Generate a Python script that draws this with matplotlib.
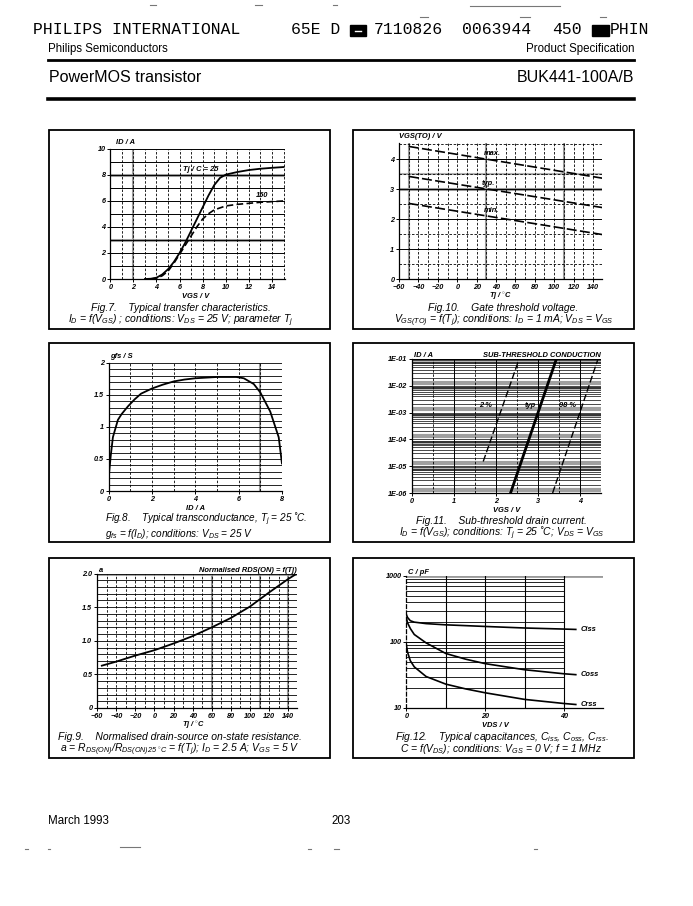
import numpy as np
import matplotlib
matplotlib.use('Agg')
import matplotlib.pyplot as plt
from matplotlib.patches import Rectangle
from matplotlib.lines import Line2D

plt.rcParams['font.family'] = ['Liberation Sans', 'DejaVu Sans']
plt.rcParams['mathtext.fontset'] = 'custom'
plt.rcParams['mathtext.rm'] = 'Liberation Sans:italic'
plt.rcParams['mathtext.it'] = 'Liberation Sans:italic'
plt.rcParams['mathtext.bf'] = 'Liberation Sans:bold:italic'

# ---------------- data ----------------
# Fig.7 transfer characteristics
fig7_vgs_25 = [3, 3.5, 4, 4.5, 5, 5.5, 6, 6.5, 7, 7.5, 8, 8.5, 9, 9.5, 10, 11, 12, 13, 14, 15]
fig7_id_25 = [0, 0.02, 0.1, 0.35, 0.75, 1.3, 2.0, 2.8, 3.7, 4.6, 5.5, 6.4, 7.2, 7.75, 8.0, 8.2, 8.35, 8.45, 8.52, 8.58]
fig7_vgs_150 = [3.5, 4, 4.5, 5, 5.5, 6, 6.5, 7, 7.5, 8, 8.5, 9, 9.5, 10, 11, 12, 13, 14, 15]
fig7_id_150 = [0, 0.05, 0.25, 0.6, 1.2, 1.9, 2.6, 3.3, 4.0, 4.6, 5.0, 5.3, 5.45, 5.6, 5.72, 5.8, 5.88, 5.93, 5.98]
fig7_xticks = [0, 2, 4, 6, 8, 10, 12, 14]
fig7_yticks = [0, 2, 4, 6, 8, 10]

# Fig.10 gate threshold voltage
fig10_tj = [-50, 150]
fig10_max = [4.42, 3.36]
fig10_typ = [3.42, 2.38]
fig10_min = [2.52, 1.48]
fig10_xticks = [-60, -40, -20, 0, 20, 40, 60, 80, 100, 120, 140]
fig10_yticks = [0, 1, 2, 3, 4]

# Fig.8 transconductance
fig8_id = [0, 0.03, 0.1, 0.2, 0.43, 0.6, 0.89, 1.2, 1.5, 2.0, 2.5, 3.0, 3.5, 4.0, 5.0, 5.9, 6.24, 6.7, 7.0, 7.46, 7.85, 8.0]
fig8_gfs = [0.08, 0.3, 0.55, 0.84, 1.11, 1.2, 1.32, 1.43, 1.52, 1.6, 1.66, 1.71, 1.74, 1.76, 1.78, 1.78, 1.76, 1.67, 1.54, 1.24, 0.84, 0.43]
fig8_xticks = [0, 2, 4, 6, 8]
fig8_yticks = [0, 0.5, 1, 1.5, 2]
fig8_ytick_labels = ['0', '0.5', '1', '1.5', '2']

# Fig.11 sub-threshold drain current
fig11_vgs_typ = [2.35, 3.44]
fig11_id_typ = [1e-6, 1e-1]
fig11_vgs_2 = [1.70, 2.52]
fig11_id_2 = [1.5e-5, 7e-2]
fig11_vgs_98 = [3.35, 4.42]
fig11_id_98 = [1e-6, 9e-2]
fig11_xticks = [0, 1, 2, 3, 4]
fig11_yticks = [1e-6, 1e-5, 1e-4, 1e-3, 1e-2, 1e-1]
fig11_ytick_labels = ['1E-06', '1E-05', '1E-04', '1E-03', '1E-02', '1E-01']

# Fig.9 normalised RDS(ON)
fig9_tj = [-55, -40, -20, 0, 20, 40, 60, 80, 100, 120, 140, 149]
fig9_a = [0.63, 0.69, 0.78, 0.86, 0.96, 1.07, 1.20, 1.34, 1.51, 1.72, 1.92, 2.0]
fig9_xticks = [-60, -40, -20, 0, 20, 40, 60, 80, 100, 120, 140]
fig9_yticks = [0, 0.5, 1.0, 1.5, 2.0]
fig9_ytick_labels = ['0', '0.5', '1.0', '1.5', '2.0']

# Fig.12 capacitances
fig12_vds = [0, 0.3, 1, 2, 5, 10, 15, 20, 30, 40, 43]
fig12_ciss = [260, 235, 210, 200, 190, 182, 177, 172, 163, 157, 155]
fig12_coss = [230, 195, 160, 130, 97, 67, 55, 47, 38, 33, 32]
fig12_crss = [90, 70, 52, 42, 30, 23, 19.5, 17, 13.5, 11.7, 11.3]
fig12_xticks = [0, 20, 40]
fig12_yticks = [10, 100, 1000]
fig12_ytick_labels = ['10', '100', '1000']

# ---------------- layout helpers ----------------
W, H = 693, 906
fig = plt.figure(figsize=(W / 100, H / 100), dpi=100)
fig.patch.set_facecolor('white')


def ftext(x, y, s, **kw):
    return fig.text(x / W, 1 - y / H, s, **kw)


def fline(x0, y0, x1, y1, **kw):
    fig.add_artist(Line2D([x0 / W, x1 / W], [1 - y0 / H, 1 - y1 / H],
                          transform=fig.transFigure, **kw))


def frect(x0, y0, x1, y1, **kw):
    fig.add_artist(Rectangle((x0 / W, 1 - y1 / H), (x1 - x0) / W, (y1 - y0) / H,
                             transform=fig.transFigure, **kw))


def panel(box, l, r, t, b_px):
    x0, y0, x1, y1 = box
    frect(x0, y0, x1, y1, fill=False, lw=1.3, ec='black')
    bw, bh = x1 - x0, y1 - y0
    left, right = x0 + l * bw, x0 + r * bw
    top, bottom = y0 + t * bh, b_px
    ax = fig.add_axes([left / W, 1 - bottom / H, (right - left) / W, (bottom - top) / H])
    ax.set_facecolor('none')
    ax._px = (left, right, top, bottom)
    return ax


def style_ticks(ax, xt, yt, xl=None, yl=None):
    ax.set_xticks(xt)
    ax.set_yticks(yt)
    if xl is not None:
        ax.set_xticklabels(xl)
    if yl is not None:
        ax.set_yticklabels(yl)
    ax.minorticks_off()
    ax.tick_params(labelsize=5.2, length=2.2, width=0.7, pad=1.2, direction='out')
    for lab in ax.get_xticklabels() + ax.get_yticklabels():
        lab.set_fontstyle('italic')
        lab.set_fontweight('bold')
    for s in ['top', 'right']:
        ax.spines[s].set_visible(False)
    for s in ['left', 'bottom']:
        ax.spines[s].set_linewidth(0.9)


small = dict(fontsize=5.4, style='italic', fontweight='bold')
DASH = (0, (3, 2))


def xlabel(ax, frac, s):
    left, right, top, bottom = ax._px
    ftext(left + frac * (right - left), bottom + 17.4, s, ha='center', va='center', **small)


def caption(box, cx, l1, l2, ha='center', d1=21.2, d2=8.6, fs=7.5):
    x0, y0, x1, y1 = box
    bw = x1 - x0
    ftext(x0 + cx * bw, y1 - d1, l1, ha=ha, va='center', style='italic', fontsize=fs)
    ftext(x0 + cx * bw, y1 - d2, l2, ha=ha, va='center', style='italic', fontsize=fs)


# ---------------- header ----------------
mono = dict(family='Liberation Mono', fontsize=11.8)
ftext(33, 30, 'PHILIPS INTERNATIONAL', ha='left', va='center', **mono)
ftext(291, 30, '65E D', ha='left', va='center', **mono)
frect(350, 25, 366, 36, fc='black', ec='black')
fline(355, 30.5, 361, 30.5, color='white', lw=1)
ftext(374, 30, '7110826', ha='left', va='center', **mono)
ftext(462, 30, '0063944', ha='left', va='center', **mono)
ftext(552, 30, '450', ha='left', va='center', **mono)
frect(592, 25, 609, 36, fc='black', ec='black')
ftext(610, 30, 'PHIN', ha='left', va='center', **mono)
ftext(48, 49, 'Philips Semiconductors', ha='left', va='center', fontsize=8.3)
ftext(634, 49, 'Product Specification', ha='right', va='center', fontsize=8.3)
fline(48, 60, 634, 60, color='black', lw=2.0)
ftext(49, 77, 'PowerMOS transistor', ha='left', va='center', fontsize=11.5)
ftext(634, 77, 'BUK441-100A/B', ha='right', va='center', fontsize=11.5)
fline(48, 99, 634, 99, color='black', lw=2.6)
# scan specks
for (a, b, yy) in [(150, 156, 5), (255, 262, 5), (333, 337, 5), (470, 560, 6), (420, 428, 17), (520, 530, 17), (600, 606, 17)]:
    fline(a, yy, b, yy, color='#777777', lw=0.8)
for (a, b, yy) in [(25, 28, 849), (48, 50, 849), (120, 140, 847), (308, 311, 849), (334, 339, 849), (534, 537, 849)]:
    fline(a, yy, b, yy, color='#777777', lw=0.8)

# ---------------- footer ----------------
ftext(48, 821, 'March 1993', ha='left', va='center', fontsize=8.3)
ftext(341, 821, '203', ha='center', va='center', fontsize=8.3)

# boxes
BL1 = (49, 130, 330, 329)
BR1 = (353, 130, 634, 329)
BL2 = (49, 343, 330, 542)
BR2 = (353, 343, 634, 542)
BL3 = (49, 558, 330, 758)
BR3 = (353, 558, 634, 758)

# ---------------- Fig.7 ----------------
ax = panel(BL1, 0.218, 0.839, 0.093, 279)
ax.set_xlim(0, 15.1)
ax.set_ylim(0, 10)
for v in range(1, 11):
    ax.axhline(v, color='black', lw=0.7, zorder=1)
for v in [3, 8]:
    ax.axhline(v, color='#9a9a9a', lw=2.2, zorder=0.5)
for v in range(1, 16):
    ax.axvline(v, color='black', lw=0.6, ls=DASH, zorder=1)
ax.axvline(2, color='#9a9a9a', lw=1.5, zorder=0.5)
ax.plot(fig7_vgs_25, fig7_id_25, color='black', lw=1.3, zorder=3)
ax.plot(fig7_vgs_150, fig7_id_150, color='black', lw=1.2, ls=(0, (4, 2)), zorder=3)
ax.text(6.3, 8.1, 'Tj / C = 25', ha='left', va='bottom', **small)
ax.text(12.6, 6.15, '150', ha='left', va='bottom', **small)
style_ticks(ax, fig7_xticks, fig7_yticks)
ax.text(0.035, 1.02, 'ID / A', transform=ax.transAxes, ha='left', va='bottom', **small)
xlabel(ax, 0.49, 'VGS / V')
caption(BL1, 0.47, 'Fig.7.    Typical transfer characteristics.',
        r'$I_D$ = f($V_{GS}$) ; conditions: $V_{DS}$ = 25 V; parameter $T_j$')

# ---------------- Fig.10 ----------------
ax = panel(BR1, 0.164, 0.885, 0.063, 279)
ax.set_xlim(-60, 149)
ax.set_ylim(0, 4.55)
for v in np.arange(0.5, 4.6, 0.5):
    if abs(v - round(v)) < 1e-6:
        ax.axhline(v, color='black', lw=0.7, zorder=1)
    else:
        ax.axhline(v, color='black', lw=0.6, ls=DASH, zorder=1)
ax.axhline(3.0, color='#9a9a9a', lw=2.2, zorder=0.5)
ax.axhline(3.5, color='#b0b0b0', lw=1.5, zorder=0.5)
for v in range(-50, 150, 10):
    ax.axvline(v, color='black', lw=0.6, ls=DASH, zorder=1)
for v in [-50, 30, 110]:
    ax.axvline(v, color='#9a9a9a', lw=1.5, zorder=0.5)
for ys in (fig10_max, fig10_typ, fig10_min):
    ax.plot(fig10_tj, ys, color='black', lw=1.2, ls=(0, (6, 2)), zorder=3)
ax.text(27, 4.07, 'max.', ha='left', va='bottom', **small)
ax.text(25, 3.08, 'typ.', ha='left', va='bottom', **small)
ax.text(27, 2.16, 'min.', ha='left', va='bottom', **small)
style_ticks(ax, fig10_xticks, fig10_yticks)
ax.text(0.0, 1.015, 'VGS(TO) / V', transform=ax.transAxes, ha='left', va='bottom', **small)
xlabel(ax, 0.50, r'Tj / $^{\circ}$C')
caption(BR1, 0.535, 'Fig.10.    Gate threshold voltage.',
        r'$V_{GS(TO)}$ = f($T_j$); conditions: $I_D$ = 1 mA; $V_{DS}$ = $V_{GS}$')

# ---------------- Fig.8 ----------------
ax = panel(BL2, 0.212, 0.829, 0.100, 491)
ax.set_xlim(0, 8)
ax.set_ylim(0, 2)
for v in np.arange(0.1, 2.01, 0.1):
    ax.axhline(v, color='black', lw=0.6, zorder=1)
for v in range(1, 9):
    ax.axvline(v, color='black', lw=0.6, ls=DASH, zorder=1)
ax.axvline(7, color='#9a9a9a', lw=1.5, zorder=0.5)
ax.plot(fig8_id, fig8_gfs, color='black', lw=1.3, zorder=3)
style_ticks(ax, fig8_xticks, fig8_yticks, None, fig8_ytick_labels)
ax.text(0.01, 1.02, 'gfs / S', transform=ax.transAxes, ha='left', va='bottom', **small)
xlabel(ax, 0.50, 'ID / A')
caption(BL2, 0.200, r'Fig.8.    Typical transconductance, T$_{\mathregular{j}}$ = 25 ˚C.',
        r'$g_{fs}$ = f($I_D$); conditions: $V_{DS}$ = 25 V', ha='left',
        d1=22.8, d2=7.7, fs=7.2)

# ---------------- Fig.11 ----------------
ax = panel(BR2, 0.209, 0.881, 0.080, 493)
ax.set_yscale('log')
ax.set_xlim(0, 4.49)
ax.set_ylim(1e-6, 1e-1)
for d in range(-6, -1):
    for k in range(1, 10):
        ax.axhline(k * 10.0 ** d, color='black', lw=0.5, zorder=1)
    ax.axhline(1.3 * 10.0 ** d, color='#a0a0a0', lw=3.0, zorder=0.5)
    ax.axhline(0.8 * 10.0 ** (d + 1), color='#b0b0b0', lw=2.0, zorder=0.5)
ax.axhline(1e-1, color='black', lw=0.8, zorder=1)
for v in np.arange(0.5, 4.6, 0.5):
    if abs(v - round(v)) < 1e-6:
        ax.axvline(v, color='black', lw=0.7, zorder=1)
    else:
        ax.axvline(v, color='black', lw=0.6, ls=DASH, zorder=1)
ax.plot(fig11_vgs_typ, fig11_id_typ, color='black', lw=2.0, zorder=3)
ax.plot(fig11_vgs_2, fig11_id_2, color='black', lw=1.0, ls=(0, (5, 2)), zorder=3)
ax.plot(fig11_vgs_98, fig11_id_98, color='black', lw=1.0, ls=(0, (5, 2)), zorder=3)
ax.text(1.60, 1.3e-3, '2 %', ha='left', va='bottom', **small)
ax.text(2.68, 1.3e-3, 'typ', ha='left', va='bottom', **small)
ax.text(3.50, 1.3e-3, '98 %', ha='left', va='bottom', **small)
style_ticks(ax, fig11_xticks, fig11_yticks, None, fig11_ytick_labels)
ax.text(0.01, 1.0, 'ID / A', transform=ax.transAxes, ha='left', va='bottom', **small)
ax.text(1.0, 1.0, 'SUB-THRESHOLD CONDUCTION', transform=ax.transAxes, ha='right', va='bottom', **small)
xlabel(ax, 0.505, 'VGS / V')
caption(BR2, 0.53, 'Fig.11.    Sub-threshold drain current.',
        r'$I_D$ = f($V_{GS}$); conditions: $T_j$ = 25 ˚C; $V_{DS}$ = $V_{GS}$')

# ---------------- Fig.9 ----------------
ax = panel(BL3, 0.171, 0.882, 0.078, 708)
ax.set_xlim(-60, 149)
ax.set_ylim(0, 2.0)
for v in np.arange(0.1, 2.01, 0.1):
    ax.axhline(v, color='black', lw=0.6, zorder=1)
ax.axhline(2.0, color='#9a9a9a', lw=2.0, zorder=0.5)
for v in range(-50, 150, 10):
    ax.axvline(v, color='black', lw=0.6, ls=DASH, zorder=1)
for v in [60, 110, 140]:
    ax.axvline(v, color='#9a9a9a', lw=1.5, zorder=0.5)
ax.plot(fig9_tj, fig9_a, color='black', lw=1.3, zorder=3)
style_ticks(ax, fig9_xticks, fig9_yticks, None, fig9_ytick_labels)
ax.text(0.01, 1.0, 'a', transform=ax.transAxes, ha='left', va='bottom', **small)
ax.text(1.0, 1.0, 'Normalised RDS(ON) = f(Tj)', transform=ax.transAxes, ha='right', va='bottom', **small)
xlabel(ax, 0.483, r'Tj / $^{\circ}$C')
caption(BL3, 0.467, 'Fig.9.    Normalised drain-source on-state resistance.',
        r'a = $R_{DS(ON)}$/$R_{DS(ON)25\ ^{\circ}C}$ = f($T_j$); $I_D$ = 2.5 A; $V_{GS}$ = 5 V')

# ---------------- Fig.12 ----------------
ax = panel(BR3, 0.190, 0.891, 0.090, 708)
ax.set_yscale('log')
ax.set_xlim(0, 50)
ax.set_ylim(10, 1000)
for d in (1, 2):
    for k in range(2, 10):
        ax.axhline(k * 10.0 ** d, xmin=0, xmax=0.8, color='black', lw=0.6, zorder=1)
ax.axhline(100, xmin=0, xmax=0.8, color='black', lw=0.7, zorder=1)
ax.axhline(1000, color='#9a9a9a', lw=2.0, zorder=0.5)
for v in [10, 20, 30, 40]:
    ax.axvline(v, color='black', lw=0.8, zorder=1)
ax.axvline(50, color='black', lw=0.6, ls=DASH, zorder=1)
ax.plot(fig12_vds, fig12_ciss, color='black', lw=1.2, zorder=3)
ax.plot(fig12_vds, fig12_coss, color='black', lw=1.2, zorder=3)
ax.plot(fig12_vds, fig12_crss, color='black', lw=1.2, zorder=3)
ax.text(44.3, 157, 'Ciss', ha='left', va='center', **small)
ax.text(44.3, 32, 'Coss', ha='left', va='center', **small)
ax.text(44.3, 11.3, 'Crss', ha='left', va='center', **small)
style_ticks(ax, fig12_xticks, fig12_yticks, None, fig12_ytick_labels)
ax.spines['left'].set_linestyle((0, (3, 2)))
ax.text(0.01, 1.0, 'C / pF', transform=ax.transAxes, ha='left', va='bottom', **small)
xlabel(ax, 0.45, 'VDS / V')
caption(BR3, 0.528, r'Fig.12.    Typical capacitances, $C_{iss}$, $C_{oss}$, $C_{rss}$.',
        r'C = f($V_{DS}$); conditions: $V_{GS}$ = 0 V; f = 1 MHz')

fig.savefig('out.png', dpi=100, facecolor='white')
